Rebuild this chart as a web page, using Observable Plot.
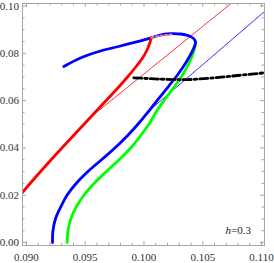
<!DOCTYPE html>
<html><head><meta charset="utf-8">
<script src="https://cdn.jsdelivr.net/npm/d3@7"></script>
<script src="https://cdn.jsdelivr.net/npm/@observablehq/plot@0.6"></script>
<style>body{margin:0;background:#fff}</style>
</head><body><div id="chart"></div>
<script>
// ---- data ----
const redX = [0.089149, 0.090340, 0.091617, 0.092894, 0.094596, 0.096298, 0.097574, 0.098596, 0.099362, 0.099872, 0.100255, 0.100494, 0.100621];
const redY = [0.01818, 0.02516, 0.03235, 0.03932, 0.04841, 0.05751, 0.06427, 0.06998, 0.07463, 0.07801, 0.08140, 0.08436, 0.08668];
const redDashX = [0.10064, 0.10140, 0.10234];
const redDashY = [0.0867, 0.0874, 0.0880];
const blueX = [0.092213, 0.092255, 0.092477, 0.092936, 0.093489, 0.094298, 0.095319, 0.096511, 0.097660, 0.098689, 0.099609, 0.100443, 0.101260, 0.102077, 0.102877, 0.103574, 0.104060, 0.104323, 0.104383, 0.104255, 0.104000, 0.103617, 0.103106, 0.102511, 0.101915, 0.101234, 0.100613, 0.099702, 0.098000, 0.096298, 0.094596, 0.093174];
const blueY = [0.0000, 0.00507, 0.01015, 0.01522, 0.02030, 0.02537, 0.03044, 0.03552, 0.04059, 0.04567, 0.05074, 0.05581, 0.06089, 0.06596, 0.07104, 0.07611, 0.08034, 0.08330, 0.08478, 0.08613, 0.08698, 0.08770, 0.08816, 0.08833, 0.08825, 0.08753, 0.08655, 0.08529, 0.08309, 0.08097, 0.07801, 0.07442];
const greenX = [0.093464, 0.093532, 0.093787, 0.094255, 0.094936, 0.095830, 0.096894, 0.098000, 0.098979, 0.099787, 0.100511, 0.101106, 0.101830, 0.102596, 0.103302, 0.103855, 0.104204, 0.104366, 0.104400];
const greenY = [0.0000, 0.00507, 0.01015, 0.01522, 0.02030, 0.02537, 0.03044, 0.03552, 0.04059, 0.04567, 0.05074, 0.05581, 0.06089, 0.06596, 0.07104, 0.07611, 0.08034, 0.08330, 0.08478];
const thinRedX = [0.095106, 0.107780];
const thinRedY = [0.05159, 0.10258];
const thinBlueX = [0.10038, 0.11050];
const thinBlueY = [0.0555, 0.0987];
const blackX = [0.099132, 0.101404, 0.103532, 0.105660, 0.107957, 0.110255];
const blackY = [0.06964, 0.06909, 0.06884, 0.06951, 0.07061, 0.07175];
const xMajor = [0.090, 0.095, 0.100, 0.105, 0.110];
const yMajor = [0.00, 0.02, 0.04, 0.06, 0.08, 0.10];
const xMinor = d3.range(90, 111).filter(v => v % 5 !== 0).map(v => v / 1000);
const yMinor = d3.range(0, 101, 5).filter(v => v % 20 !== 0).map(v => v / 1000);
const labelText = ["h", "=0.3"];

// ---- layout ----
const W = 274, H = 263, mL = 22, mR = 10, mT = 3, mB = 18;
const innerW = W - mL - mR, innerH = H - mT - mB;
const frameColor = "#a6a6a6";
const pts = (xs, ys) => xs.map((x, i) => ({x, y: ys[i]}));

const chart = Plot.plot({
  width: W, height: H,
  marginLeft: mL, marginRight: mR, marginTop: mT, marginBottom: mB,
  x: {domain: [0.08966, 0.110255], label: null},
  y: {domain: [-0.00127, 0.10106], label: null},
  style: {fontFamily: "'Liberation Serif', 'Times New Roman', serif", fontSize: "11px", background: "#fff", color: "#333"},
  marks: [
    Plot.line(pts(thinRedX, thinRedY), {x: "x", y: "y", stroke: "#ff0000", strokeWidth: 0.8, clip: true}),
    Plot.line(pts(thinBlueX, thinBlueY), {x: "x", y: "y", stroke: "#0000ff", strokeWidth: 0.8, clip: true}),
    Plot.line(pts(greenX, greenY), {x: "x", y: "y", stroke: "#00ff00", strokeWidth: 2.8, curve: "catmull-rom", clip: true}),
    Plot.line(pts(blueX, blueY), {x: "x", y: "y", stroke: "#0000ff", strokeWidth: 2.8, curve: "catmull-rom", clip: true}),
    Plot.line(pts(redX, redY), {x: "x", y: "y", stroke: "#ff0000", strokeWidth: 2.8, curve: "catmull-rom", clip: true}),
    Plot.line(pts(redDashX, redDashY), {x: "x", y: "y", stroke: "#ff8080", strokeWidth: 2, strokeDasharray: "2,2.5", curve: "catmull-rom", clip: true}),
    Plot.line(pts(blackX, blackY), {x: "x", y: "y", stroke: "#000", strokeWidth: 2.8, strokeDasharray: "8,3,2.5,3", curve: "catmull-rom", clip: true}),
    Plot.frame({stroke: frameColor}),
    Plot.tickX(xMajor, {x: d => d, insetTop: innerH - 4, stroke: frameColor}),
    Plot.tickX(xMajor, {x: d => d, insetBottom: innerH - 4, stroke: frameColor}),
    Plot.tickX(xMinor, {x: d => d, insetTop: innerH - 2.5, stroke: frameColor}),
    Plot.tickX(xMinor, {x: d => d, insetBottom: innerH - 2.5, stroke: frameColor}),
    Plot.tickY(yMajor, {y: d => d, insetRight: innerW - 4, stroke: frameColor}),
    Plot.tickY(yMajor, {y: d => d, insetLeft: innerW - 4, stroke: frameColor}),
    Plot.tickY(yMinor, {y: d => d, insetRight: innerW - 2.5, stroke: frameColor}),
    Plot.tickY(yMinor, {y: d => d, insetLeft: innerW - 2.5, stroke: frameColor}),
    Plot.axisX(xMajor, {tickSize: 0, tickPadding: 8, tickFormat: d3.format(".3f"), fill: "#333"}),
    Plot.axisY(yMajor, {tickSize: 0, tickPadding: 3.5, tickFormat: d3.format(".2f"), fill: "#333"}),
    Plot.text([labelText[0]], {x: 0.10740, y: 0.0051, text: d => d, textAnchor: "end", fontStyle: "italic", fill: "#222"}),
    Plot.text([labelText[1]], {x: 0.10740, y: 0.0051, text: d => d, textAnchor: "start", fill: "#222"})
  ]
});
document.getElementById("chart").appendChild(chart);
</script>
</body></html>
